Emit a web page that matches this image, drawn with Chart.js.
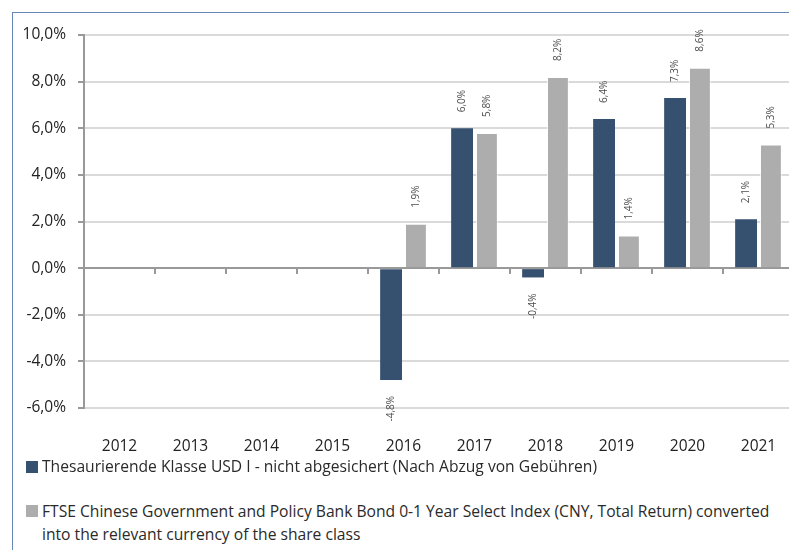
<!DOCTYPE html>
<html>
<head>
<meta charset="utf-8">
<script src="https://cdn.jsdelivr.net/npm/chart.js@4/dist/chart.umd.min.js"></script>
<style>
  html, body { margin: 0; padding: 0; background: #fff; overflow: hidden; width: 789px; height: 550px; }
  #frame { position: absolute; left: 12px; top: 12px; width: 900px; height: 700px;
           border-left: 1.5px solid #6388b5; border-top: 1.5px solid #6388b5; }
  #wrap { position: absolute; left: 0; top: 0; width: 794px; height: 455px; }
  .sq { position: absolute; width: 12px; height: 12px; }
  .lt { position: absolute; left: 42px; font-family: "Open Sans", sans-serif; font-size: 17px;
        color: #2a2a2a; white-space: nowrap; transform-origin: 0 0; }
</style>
</head>
<body>
<div id="frame"></div>
<div id="wrap"><canvas id="c" width="794" height="455"></canvas></div>
<div class="sq" style="left:26px;top:461px;background:#36516f;"></div>
<div class="lt" id="l1" style="top:456px;line-height:20px;"></div>
<div class="sq" style="left:26px;top:505px;background:#adadad;"></div>
<div class="lt" id="l2" style="top:499px;line-height:23px;"></div>
<script>
const categories = ['2012','2013','2014','2015','2016','2017','2018','2019','2020','2021'];
const fundValues  = [null, null, null, null, -4.8, 6.0, -0.4, 6.4, 7.3, 2.1];
const indexValues = [null, null, null, null, 1.9, 5.8, 8.2, 1.4, 8.6, 5.3];
const fundName = 'Thesaurierende Klasse USD I - nicht abgesichert (Nach Abzug von Gebühren)';
const indexNameLine1 = 'FTSE Chinese Government and Policy Bank Bond 0-1 Year Select Index (CNY, Total Return) converted';
const indexNameLine2 = 'into the relevant currency of the share class';
const yMin = -6, yMax = 10, yStep = 2;

const fmt = v => v.toFixed(1).replace('.', ',') + '%';

// Legend (HTML text)
const l1 = document.getElementById('l1');
const l2 = document.getElementById('l2');
l1.textContent = fundName;
l2.appendChild(document.createTextNode(indexNameLine1));
l2.appendChild(document.createElement('br'));
l2.appendChild(document.createTextNode(indexNameLine2));
const mctx = document.createElement('canvas').getContext('2d');
mctx.font = '17px "Open Sans"';
const k = 555 / mctx.measureText(fundName).width;
l1.style.transform = 'scaleX(' + k + ')';
l2.style.transform = 'scaleX(' + k + ')';

const valueLabels = {
  id: 'valueLabels',
  afterDatasetsDraw(chart) {
    const ctx = chart.ctx;
    ctx.save();
    ctx.font = '10px "Open Sans", sans-serif';
    ctx.fillStyle = '#505050';
    ctx.textBaseline = 'middle';
    chart.data.datasets.forEach((ds, di) => {
      const meta = chart.getDatasetMeta(di);
      meta.data.forEach((el, i) => {
        const v = ds.data[i];
        if (v === null || v === undefined) return;
        ctx.save();
        ctx.translate(el.x, v >= 0 ? el.y - 16 : el.y + 16);
        ctx.rotate(-Math.PI / 2);
        ctx.textAlign = v >= 0 ? 'left' : 'right';
        ctx.fillText(fmt(v), 0, 0);
        ctx.restore();
      });
    });
    ctx.restore();
  }
};

new Chart(document.getElementById('c'), {
  type: 'bar',
  data: {
    labels: categories,
    datasets: [
      { label: fundName, data: fundValues, backgroundColor: '#36516f', borderWidth: 0,
        categoryPercentage: 0.7, barPercentage: 0.88 },
      { label: indexNameLine1 + ' ' + indexNameLine2, data: indexValues, backgroundColor: '#adadad',
        borderColor: 'rgba(255,255,255,0.75)', borderWidth: 1,
        categoryPercentage: 0.7, barPercentage: 0.88 }
    ]
  },
  options: {
    responsive: false,
    devicePixelRatio: 1,
    animation: false,
    layout: { padding: { top: 35, left: 0, right: 0, bottom: 0 } },
    plugins: { legend: { display: false }, tooltip: { enabled: false } },
    scales: {
      x: {
        type: 'category',
        offset: true,
        grid: { display: true, drawOnChartArea: false, drawTicks: true, tickLength: 29,
                color: 'rgba(0,0,0,0)', tickColor: 'rgba(0,0,0,0)', offset: true },
        border: { display: false },
        ticks: { color: '#222', font: { family: 'Open Sans', size: 15.5 }, padding: 0, maxRotation: 0 },
        afterFit: s => { s.height = 47; }
      },
      x2: {
        type: 'category',
        axis: 'x',
        position: { y: 0 },
        offset: true,
        grid: { display: true, offset: true, drawOnChartArea: false, drawTicks: true,
                tickLength: 5, tickColor: '#999', lineWidth: 2 },
        border: { display: true, color: '#999', width: 2 },
        ticks: { display: false }
      },
      y: {
        min: yMin, max: yMax,
        ticks: { stepSize: yStep, callback: v => fmt(v), color: '#222',
                 font: { family: 'Open Sans', size: 15.5 }, padding: 12 },
        grid: {
          color: c => (c.tick && c.tick.value === 0) ? '#999' : '#dadada',
          lineWidth: 2, tickLength: 6, tickColor: '#999'
        },
        border: { display: true, color: '#999', width: 2 },
        afterFit: s => { s.width = 84; }
      }
    }
  },
  plugins: [valueLabels]
});
</script>
</body>
</html>
